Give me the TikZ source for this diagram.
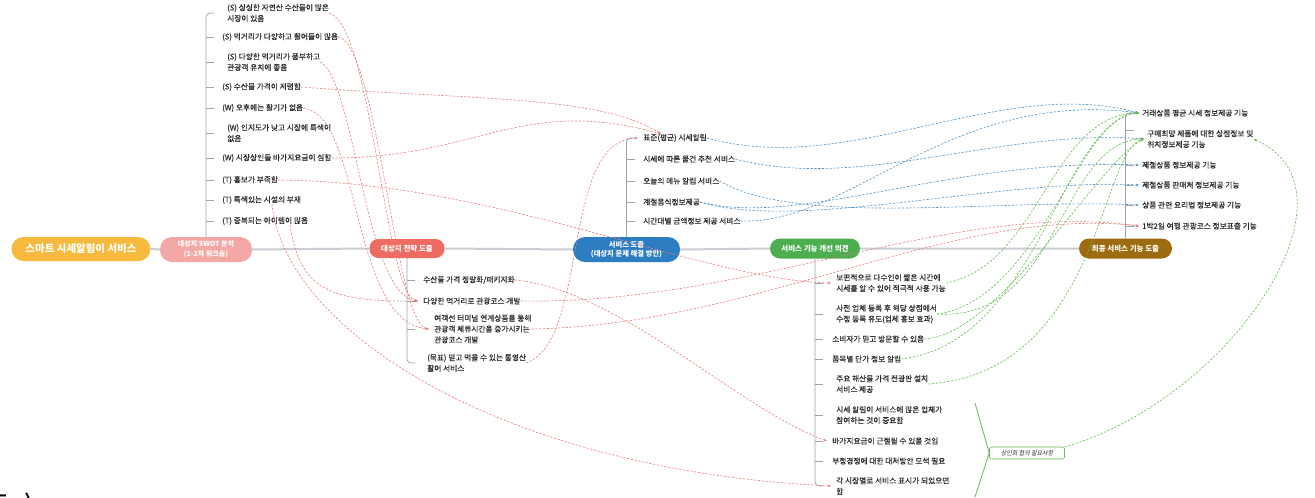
\documentclass[tikz,border=0pt]{standalone}
\usepackage{fontspec}
\setmainfont{Noto Sans CJK KR}
\newfontfamily\slantkr[FakeSlant=0.2]{Noto Sans CJK KR}
\newfontfamily\itemkr[FakeBold=0.2]{Noto Sans CJK KR}
\usetikzlibrary{arrows.meta}
\definecolor{cRoot}{HTML}{F7B93E}
\definecolor{cSwot}{HTML}{F3A8A6}
\definecolor{cStrat}{HTML}{EF6B62}
\definecolor{cServ}{HTML}{2D7DC3}
\definecolor{cImpr}{HTML}{4DAE50}
\definecolor{cFinal}{HTML}{9D6B10}
\definecolor{cTrunk}{HTML}{C9CED4}
\definecolor{cBranch}{HTML}{9AA4B0}
\definecolor{cText}{HTML}{2A2A2A}
\definecolor{cRed}{HTML}{E57F7A}
\definecolor{cBlue}{HTML}{4A90C9}
\definecolor{cGreen}{HTML}{63BD4E}
\begin{document}
\begin{tikzpicture}[x=1pt,y=-1pt,
  hub/.style={text=white, font=\fontsize{7.5}{9.5}\selectfont\bfseries, align=center, inner sep=0pt},
  item/.style={anchor=west, inner sep=0pt, align=left, text=cText, font=\itemkr\fontsize{7.7}{10.8}\selectfont},
  trunk/.style={draw=cTrunk, line width=2pt},
  branch/.style={draw=cBranch, line width=0.8pt, rounded corners=4pt},
  tick/.style={draw=cBranch, line width=0.8pt},
  lnk/.style={dashed, dash pattern=on 2.2pt off 1.6pt, line width=0.6pt, -{Stealth[length=3.5pt,width=2.6pt]}},
  rl/.style={lnk, draw=cRed},
  bl/.style={lnk, draw=cBlue},
  gl/.style={lnk, draw=cGreen}]
\useasboundingbox (0,0) rectangle (1315,498);
\fill[white] (0,0) rectangle (1315,498);

% hubs
\node[hub, fill=cRoot, minimum width=139pt, minimum height=24pt, rounded corners=12pt, font=\fontsize{10.5}{12}\selectfont\bfseries] (root) at (81,249) {스마트 시세알림이 서비스};
\node[hub, fill=cSwot, minimum width=92pt, minimum height=25pt, rounded corners=12pt, font=\fontsize{7}{9.5}\selectfont\bfseries] (swot) at (206,249.5) {대상지 SWOT 분석\\(1-2차 워크숍)};
\node[hub, fill=cStrat, minimum width=75pt, minimum height=19pt, rounded corners=9pt] (strat) at (407,248.5) {대상지 전략 도출};
\node[hub, fill=cServ, minimum width=107pt, minimum height=25pt, rounded corners=12pt, font=\fontsize{7.3}{9.5}\selectfont\bfseries] (serv) at (626.5,249.5) {서비스 도출\\(대상지 문제 해결 방안)};
\node[hub, fill=cImpr, minimum width=90pt, minimum height=20pt, rounded corners=10pt] (impr) at (815,248.5) {서비스 기능 개선 의견};
\node[hub, fill=cFinal, minimum width=93pt, minimum height=20pt, rounded corners=10pt] (final) at (1125.5,248.5) {최종 서비스 기능 도출};

\draw[trunk] (root.east) -- (swot.west) (swot.east) -- (strat.west) (strat.east) -- (serv.west) (serv.east) -- (impr.west) (impr.east) -- (final.west);

% SWOT items
\node[item] (s1) at (227,13) {(S) 싱싱한 자연산 수산물이 많은\\시장이 있음};
\node[item] (s2) at (222,37) {(S) 먹거리가 다양하고 활어들이 많음};
\node[item] (s3) at (227,62) {(S) 다양한 먹거리가 풍부하고\\관광객 유치에 좋음};
\node[item] (s4) at (222,87) {(S) 수산물 가격이 저렴함};
\node[item] (s5) at (222,108) {(W) 오후에는 활기가 없음};
\node[item] (s6) at (227,133) {(W) 인지도가 낮고 시장에 특색이\\없음};
\node[item] (s7) at (222,158) {(W) 시장상인들 바가지요금이 심함};
\node[item] (s8) at (222,180) {(T) 홍보가 부족함};
\node[item] (s9) at (222,200) {(T) 특색있는 시설의 부재};
\node[item] (s10) at (222,221) {(T) 중복되는 아이템이 많음};
\draw[branch] (swot.north) -- (swot.north |- s1.west) -- ++(8,0);
\foreach \n in {s2,s3,s4,s5,s6,s7,s8,s9,s10} \draw[tick] (swot.north |- \n.west) -- ++(8,0);

% strategy items
\node[item] (t1) at (423,280) {수산물 가격 정량화/패키지화};
\node[item] (t2) at (423,301) {다양한 먹거리로 관광코스 개발};
\node[item] (t3) at (434,329) {여객선 터미널 연계상품을 통해\\관광객 체류시간을 증가시키는\\관광코스 개발};
\node[item] (t4) at (427,363) {(목표) 믿고 먹을 수 있는 통영산\\활어 서비스};
\draw[branch] (strat.south) -- (strat.south |- t4.west) -- ++(8,0);
\foreach \n in {t1,t2,t3} \draw[tick] (strat.south |- \n.west) -- ++(8,0);

% service items
\node[item] (v1) at (643,138) {표준(평균) 시세알림};
\node[item] (v2) at (643,159) {시세에 따른 물건 추천 서비스};
\node[item] (v3) at (643,181) {오늘의 메뉴 알림 서비스};
\node[item] (v4) at (643,202) {계절음식정보제공};
\node[item] (v5) at (643,221) {시간대별 금액정보 제공 서비스};
\draw[branch] (serv.north) -- (serv.north |- v1.west) -- ++(8,0);
\foreach \n in {v2,v3,v4,v5} \draw[tick] (serv.north |- \n.west) -- ++(8,0);

% improvement items
\node[item] (g1) at (836,283) {보편적으로 다수인이 짧은 시간에\\시세를 알 수 있어 적극적 사용 가능};
\node[item] (g2) at (836,314) {사전 업체 등록 후 해당 상점에서\\수정 등록 유도(업체 홍보 효과)};
\node[item] (g3) at (832,339) {소비자가 믿고 방문할 수 있음};
\node[item] (g4) at (832,359) {품목별 단가 정보 알림};
\node[item] (g5) at (836,384) {주요 해산물 가격 전광판 설치\\서비스 제공};
\node[item] (g6) at (836,415) {시세 알림이 서비스에 많은 업체가\\참여하는 것이 중요함};
\node[item] (g7) at (832,441) {바가지요금이 근절될 수 있을 것임};
\node[item] (g8) at (832,461) {부정경쟁에 대한 대처방안 모색 필요};
\node[item] (g9) at (836,486) {각 시장별로 서비스 표시가 되었으면\\함};
\draw[branch] (impr.south) -- (impr.south |- g9.west) -- ++(8,0);
\foreach \n in {g1,g2,g3,g4,g5,g6,g7,g8} \draw[tick] (impr.south |- \n.west) -- ++(8,0);

% final items
\node[item] (f1) at (1142,113) {거래상품 평균 시세 정보제공 기능};
\node[item] (f2) at (1147,139) {구매희망 제품에 대한 상점정보 및\\위치정보제공 기능};
\node[item] (f3) at (1142,165) {제철상품 정보제공 기능};
\node[item] (f4) at (1142,185) {제철상품 판매처 정보제공 기능};
\node[item] (f5) at (1142,205) {상품 관련 요리법 정보제공 기능};
\node[item] (f6) at (1142,226) {1박2일 여행 관광코스 정보표출 기능};
\draw[branch] (final.north) -- (final.north |- f1.west) -- ++(8,0);
\draw[tick] (final.north |- 0,130) -- ++(8,0);
\foreach \n in {f3,f4,f5,f6} \draw[tick] (final.north |- \n.west) -- ++(8,0);

% brace and label
\node[draw=cGreen, line width=0.6pt, rounded corners=2pt, minimum width=75pt, minimum height=12pt, inner sep=1pt, text=cText, font=\fontsize{6}{7}\slantkr] (hyup) at (1027,453) {상인회 협의 필요사항};
\coordinate (bt) at (975,403);
\coordinate (bb) at (975,497);
\draw[cGreen, line width=0.8pt] (bt) -- (hyup.west) -- (bb);

% cut-off large text at bottom-left
\node[anchor=base west, inner sep=0pt, font=\fontsize{30}{30}\selectfont] (cut) at (-17,517) {도\hspace{14pt})};

% red links
\draw[rl] (s1.east) .. controls (372,25) and (385,295) .. ([xshift=-5pt]t2.west);
\draw[rl] (s2.east) .. controls (378,45) and (395,325) .. ([xshift=-5pt]t3.west);
\draw[rl] (s3.east) .. controls (355,80) and (365,295) .. ([xshift=-5pt]t2.west);
\draw[rl] (s4.east) .. controls (470,100) and (600,95) .. ([xshift=18pt]v1.north west);
\draw[rl] (s5.east) .. controls (362,115) and (350,322) .. ([xshift=-5pt]t3.west);
\draw[rl] (s7.east) .. controls (480,158) and (520,95) .. ([xshift=18pt]v1.north west);
\draw[rl] (s8.east) .. controls (500,182) and (700,280) .. ([xshift=-5pt]g1.west);
\draw[rl] ([xshift=50pt]s9.south west) .. controls (285,330) and (500,470) .. ([xshift=-5pt]g9.west);
\draw[rl] ([xshift=68pt]s10.south west) .. controls (300,290) and (330,302) .. ([xshift=-5pt]t2.west);
\draw[rl] (t1.east) .. controls (620,290) and (740,410) .. ([xshift=-5pt]g7.west);
\draw[rl] (t2.east) .. controls (750,305) and (950,200) .. ([xshift=-3pt]f6.west);
\draw[rl] (t3.east) .. controls (760,325) and (950,205) .. ([xshift=-3pt]f6.west);
\draw[rl] (t4.east) .. controls (590,340) and (560,140) .. ([xshift=-5pt]v1.west);

% blue links
\draw[bl] (v1.east) .. controls (850,178) and (1000,75) .. ([xshift=-3pt]f1.west);
\draw[bl] (v2.east) .. controls (860,192) and (1000,128) .. ([xshift=-3pt]f2.west);
\draw[bl] (v3.east) .. controls (800,228) and (1000,198) .. ([xshift=-3pt]f5.west);
\draw[bl] (v4.east) .. controls (800,228) and (950,158) .. ([xshift=-3pt]f3.west);
\draw[bl] (v4.east) .. controls (800,232) and (1000,178) .. ([xshift=-3pt]f4.west);
\draw[bl] (v5.east) .. controls (850,225) and (950,88) .. ([xshift=-3pt]f1.west);

% green links
\draw[gl] (g1.east) .. controls (1040,265) and (1050,115) .. ([xshift=-3pt]f1.west);
\draw[gl] (g2.east) .. controls (1060,322) and (1060,140) .. ([xshift=-3pt]f2.west);
\draw[gl] (g2.east) .. controls (1040,300) and (1080,112) .. ([xshift=-3pt]f1.west);
\draw[gl] (g3.east) .. controls (1000,335) and (1100,160) .. ([xshift=-3pt]f2.west);
\draw[gl] (g4.east) .. controls (1040,342) and (1060,122) .. ([xshift=-3pt]f1.west);
\draw[gl] (g5.east) .. controls (1100,372) and (1100,150) .. ([xshift=-3pt]f2.west);
\draw[gl] (hyup.north east) .. controls (1230,400) and (1370,190) .. (f2.east);
\end{tikzpicture}
\end{document}
